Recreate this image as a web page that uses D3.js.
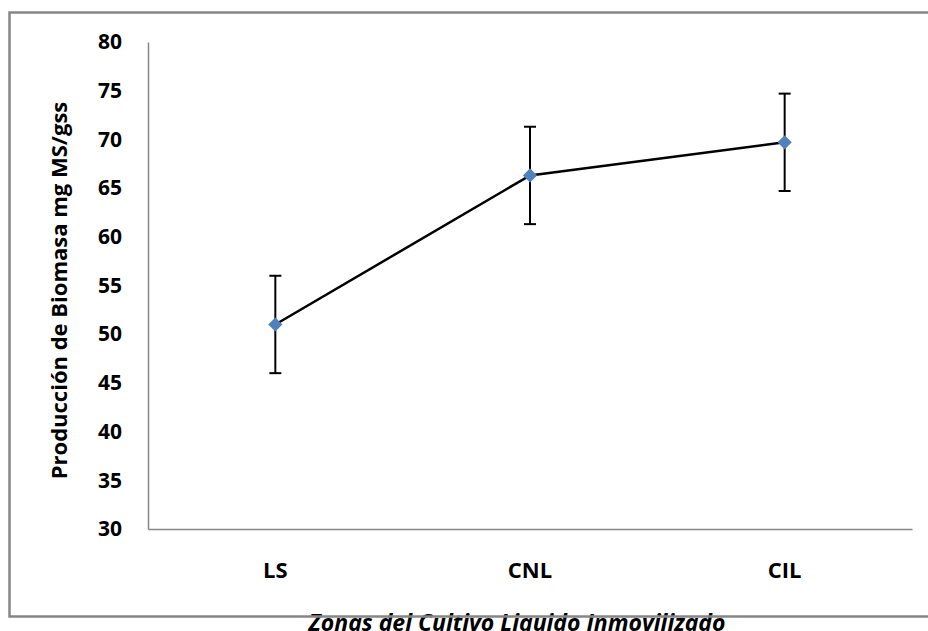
<!DOCTYPE html>
<html>
<head>
<meta charset="utf-8">
<script src="https://cdn.jsdelivr.net/npm/d3@7"></script>
<style>
  html, body { margin: 0; padding: 0; background: #fff; }
  svg { display: block; font-family: "Open Sans", Lato, sans-serif; }
</style>
</head>
<body>
<svg id="chart" width="928" height="631"></svg>
<script>
// Biomass production by zone of the immobilised liquid culture
const zones = ["LS", "CNL", "CIL"];
const biomass = [51.0, 66.3, 69.7];
const errorBars = [5, 5, 5];
const yTicks = [30, 35, 40, 45, 50, 55, 60, 65, 70, 75, 80];

const svg = d3.select("#chart");
const margin = { left: 148, right: 16, top: 42, bottom: 102 };
const W = 928, H = 631;
const font = "'Open Sans', Lato, sans-serif";

const x = d3.scaleBand().domain(zones).range([margin.left, W - margin.right]);
const y = d3.scaleLinear().domain([30, 80]).range([H - margin.bottom, margin.top]);

const axisColor = "#868686";

// y axis (line only, labels on the left)
const yAxis = svg.append("g")
  .attr("transform", `translate(${margin.left},0)`)
  .call(d3.axisLeft(y).tickValues(yTicks).tickSize(0).tickPadding(26).tickFormat(d3.format("d")));
yAxis.select(".domain").attr("stroke", axisColor).attr("stroke-width", 1.5);
yAxis.selectAll("text")
  .attr("font-size", 21).attr("font-weight", 700).attr("fill", "#000")
  .attr("font-family", font);

// x axis
const xAxis = svg.append("g")
  .attr("transform", `translate(0,${y(30)})`)
  .call(d3.axisBottom(x).tickSize(0).tickPadding(33));
xAxis.select(".domain").attr("stroke", axisColor).attr("stroke-width", 1.5);
xAxis.selectAll("text")
  .attr("font-size", 22).attr("font-weight", 700).attr("fill", "#000")
  .attr("font-family", font);

const pts = zones.map((z, i) => ({ z, v: biomass[i], e: errorBars[i] }));
const cx = d => x(d.z) + x.bandwidth() / 2;

// connecting line
svg.append("path")
  .datum(pts)
  .attr("fill", "none")
  .attr("stroke", "#000")
  .attr("stroke-width", 2.5)
  .attr("d", d3.line().x(cx).y(d => y(d.v)));

// error bars
const eb = svg.append("g").attr("stroke", "#000").attr("stroke-width", 2);
pts.forEach(d => {
  eb.append("line").attr("x1", cx(d)).attr("x2", cx(d)).attr("y1", y(d.v + d.e)).attr("y2", y(d.v - d.e));
  [d.v + d.e, d.v - d.e].forEach(v =>
    eb.append("line").attr("x1", cx(d) - 6).attr("x2", cx(d) + 6).attr("y1", y(v)).attr("y2", y(v)));
});

// diamond markers
svg.append("g").selectAll("path")
  .data(pts).join("path")
  .attr("transform", d => `translate(${cx(d)},${y(d.v)}) rotate(45)`)
  .attr("d", "M-5,-5H5V5H-5Z")
  .attr("fill", "#4F81BD");

// axis titles
svg.append("text")
  .attr("transform", `translate(67,${(margin.top + y(30)) / 2 + 5}) rotate(-90)`)
  .attr("text-anchor", "middle")
  .attr("font-size", 22).attr("font-weight", 700)
  .attr("font-family", font)
  .text("Producción de Biomasa mg MS/gss");

svg.append("text")
  .attr("x", 517).attr("y", 631)
  .attr("text-anchor", "middle")
  .attr("font-size", 23).attr("font-weight", 700).attr("font-style", "italic")
  .attr("font-family", font)
  .text("Zonas del Cultivo Liquido Inmovilizado");

// chart frame (runs past the right edge)
svg.append("path")
  .attr("d", `M940,12.5H9.5V616.5H940`)
  .attr("fill", "none")
  .attr("stroke", axisColor)
  .attr("stroke-width", 2.5);
</script>
</body>
</html>
